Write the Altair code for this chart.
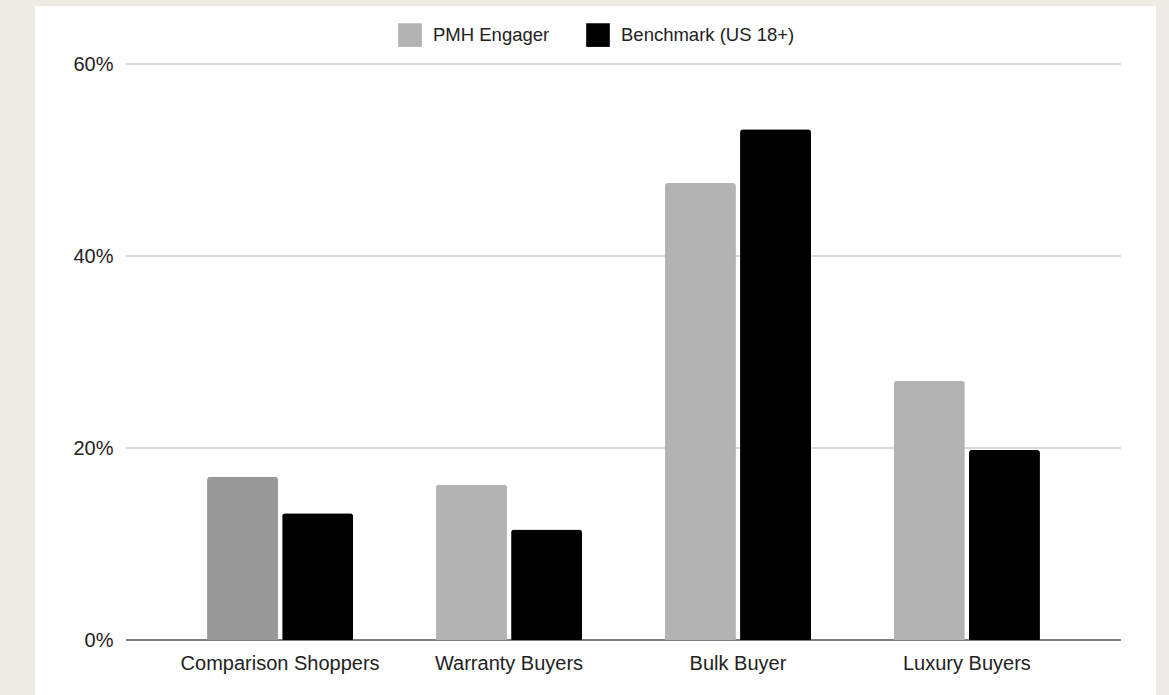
import altair as alt
import pandas as pd

# Shopper segments and the share of each audience that falls in them (%)
categories = ["Comparison Shoppers", "Warranty Buyers", "Bulk Buyer", "Luxury Buyers"]
series_names = ["PMH Engager", "Benchmark (US 18+)"]
pmh_engager = [17.0, 16.2, 47.6, 27.0]
benchmark = [13.2, 11.5, 53.2, 19.8]
y_ticks = [0, 20, 40, 60]

rows = []
for cat, a, b in zip(categories, pmh_engager, benchmark):
    rows.append({"segment": cat, "series": series_names[0], "share": a})
    rows.append({"segment": cat, "series": series_names[1], "share": b})
df = pd.DataFrame(rows)
grid_df = pd.DataFrame({"tick": y_ticks})

FONT = "Liberation Sans"
INK = "#222222"
y_scale = alt.Scale(domain=[0, 60], nice=False)
y_axis = alt.Axis(
    title=None, values=y_ticks, labelExpr="datum.value + '%'",
    domain=False, ticks=False, grid=False, labelPadding=13, zindex=1,
    labelFontSize=20, labelColor=INK, labelFont=FONT,
)

# White card behind the chart, extending past the plot area
card = alt.Chart(alt.Data(values=[{}])).mark_rect(color="#ffffff").encode(
    x=alt.value(-91), x2=alt.value(1030), y=alt.value(-58), y2=alt.value(640)
)

# Horizontal gridlines, with a darker baseline at zero
grid = alt.Chart(grid_df).mark_rule().encode(
    y=alt.Y("tick:Q", scale=y_scale, axis=y_axis),
    color=alt.condition("datum.tick == 0", alt.value("#555555"), alt.value("#cccccc")),
    strokeWidth=alt.condition("datum.tick == 0", alt.value(1.6), alt.value(1.5)),
)

bars = alt.Chart(df).mark_bar(
    cornerRadiusTopLeft=3, cornerRadiusTopRight=3
).encode(
    x=alt.X(
        "segment:N",
        sort=categories,
        scale=alt.Scale(paddingInner=0.362, paddingOuter=0.354),
        axis=alt.Axis(
            title=None, labelAngle=0, ticks=False, labelPadding=13,
            domain=False, grid=False, zindex=1, labelLimit=400,
            labelFontSize=20, labelColor=INK, labelFont=FONT,
        ),
    ),
    xOffset=alt.XOffset("series:N", sort=series_names,
                        scale=alt.Scale(paddingInner=0.055)),
    y=alt.Y("share:Q", scale=y_scale, axis=y_axis),
    color=alt.condition(
        "datum.segment == 'Comparison Shoppers' && datum.series == 'PMH Engager'",
        alt.value("#999999"),
        alt.Color(
            "series:N",
            sort=series_names,
            scale=alt.Scale(domain=series_names, range=["#b3b3b3", "#000000"]),
            legend=alt.Legend(
                title=None, orient="none", direction="horizontal",
                legendX=272, legendY=-41, padding=0,
                symbolType="square", symbolSize=560, symbolStrokeWidth=0,
                symbolOpacity=1, labelLimit=400,
                labelFontSize=18.5, labelColor=INK, labelFont=FONT,
                labelOffset=11, columnPadding=36,
            ),
        ),
    ),
)

chart = alt.layer(card, grid, bars).properties(
    width=995,
    height=576,
    background="#eeeae6",
    padding={"left": 126, "top": 64, "right": 48, "bottom": 55},
    autosize=alt.AutoSizeParams(type="none"),
).configure_view(stroke=None)

chart.save("out.html", embed_options={"renderer": "svg", "actions": False})
